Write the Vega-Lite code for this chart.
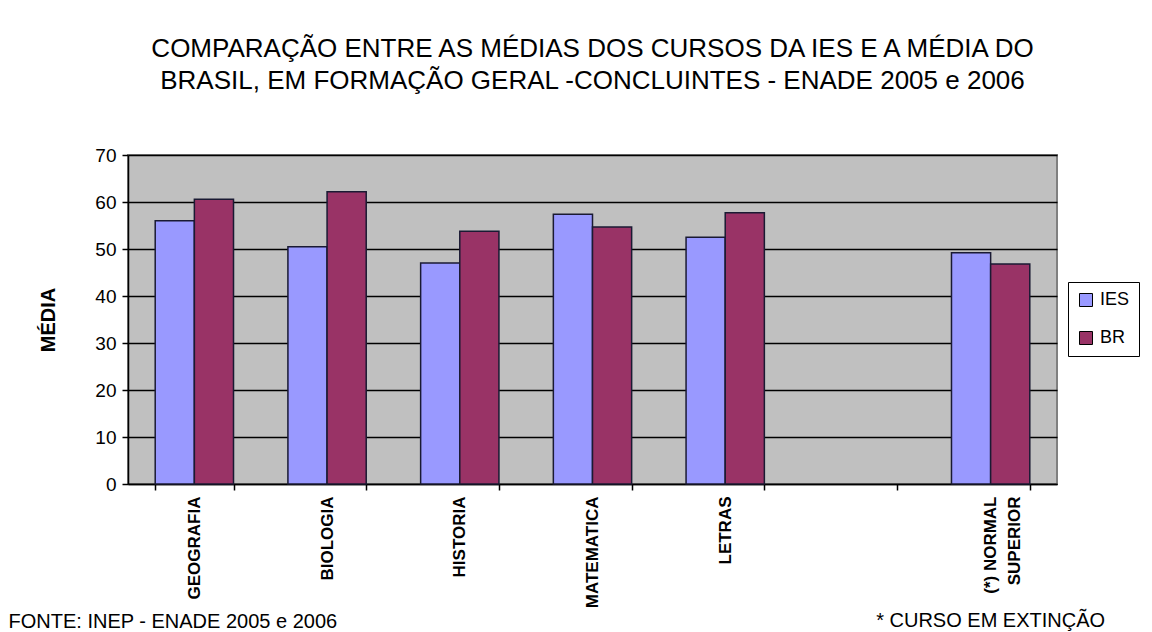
{
  "$schema": "https://vega.github.io/schema/vega-lite/v6.json",
  "autosize": {"type": "none"},
  "padding": {"left": 128, "top": 155, "right": 95, "bottom": 148},
  "width": 929,
  "height": 329,
  "background": "white",
  "title": {
    "text": ["COMPARAÇÃO ENTRE AS MÉDIAS  DOS CURSOS DA IES E A MÉDIA DO", "BRASIL, EM FORMAÇÃO GERAL -CONCLUINTES - ENADE 2005  e 2006"],
    "font": "Liberation Sans",
    "fontSize": 26,
    "fontWeight": "normal",
    "color": "black",
    "lineHeight": 32,
    "anchor": "middle",
    "offset": 52
  },
  "config": {
    "view": {"fill": "#C0C0C0", "stroke": "#808080", "strokeWidth": 2},
    "font": "Liberation Sans"
  },
  "layer": [
    {
      "data": {
        "values": [
          {"curso": "GEOGRAFIA", "grupo": "IES", "media": 56.0},
          {"curso": "GEOGRAFIA", "grupo": "BR", "media": 60.6},
          {"curso": "BIOLOGIA", "grupo": "IES", "media": 50.5},
          {"curso": "BIOLOGIA", "grupo": "BR", "media": 62.2},
          {"curso": "HISTORIA", "grupo": "IES", "media": 47.0},
          {"curso": "HISTORIA", "grupo": "BR", "media": 53.8},
          {"curso": "MATEMATICA", "grupo": "IES", "media": 57.4},
          {"curso": "MATEMATICA", "grupo": "BR", "media": 54.7},
          {"curso": "LETRAS", "grupo": "IES", "media": 52.5},
          {"curso": "LETRAS", "grupo": "BR", "media": 57.7},
          {"curso": "(*) NORMAL SUPERIOR", "grupo": "IES", "media": 49.2},
          {"curso": "(*) NORMAL SUPERIOR", "grupo": "BR", "media": 46.8}
        ]
      },
      "mark": {"type": "bar", "stroke": "#1a1a33", "strokeWidth": 1.5},
      "encoding": {
        "x": {
          "field": "curso",
          "type": "nominal",
          "sort": null,
          "scale": {
            "domain": ["GEOGRAFIA", "BIOLOGIA", "HISTORIA", "MATEMATICA", "LETRAS", " ", "(*) NORMAL SUPERIOR"],
            "paddingInner": 0.41,
            "paddingOuter": 0.205
          },
          "axis": {
            "labelAngle": 270,
            "labelFontSize": 17,
            "labelFontWeight": "bold",
            "labelColor": "black",
            "labelPadding": 6,
            "labelLineHeight": 24,
            "labelExpr": "datum.value == '(*) NORMAL SUPERIOR' ? ['(*) NORMAL', 'SUPERIOR'] : datum.value",
            "tickBand": "extent",
            "tickColor": "black",
            "tickSize": 6,
            "tickWidth": 1.5,
            "domainColor": "black",
            "domainWidth": 1.5,
            "title": "FONTE: INEP - ENADE 2005 e 2006",
            "titleFontSize": 20,
            "titleFontWeight": "normal",
            "titleColor": "black",
            "titleAnchor": "start",
            "titleAlign": "left",
            "titleBaseline": "alphabetic",
            "titleX": -120,
            "titleY": 143
          }
        },
        "xOffset": {"field": "grupo", "type": "nominal", "sort": ["IES", "BR"], "scale": {"domain": ["IES", "BR"], "paddingInner": 0}},
        "y": {
          "field": "media",
          "type": "quantitative",
          "scale": {"domain": [0, 70], "nice": false},
          "axis": {
            "values": [0, 10, 20, 30, 40, 50, 60, 70],
            "labelFontSize": 19,
            "labelColor": "black",
            "labelPadding": 6,
            "tickColor": "black",
            "tickSize": 6,
            "tickWidth": 1.5,
            "domainColor": "black",
            "domainWidth": 1.5,
            "grid": true,
            "gridColor": "black",
            "gridWidth": 1.5,
            "title": "MÉDIA",
            "titleFontSize": 20,
            "titleFontWeight": "bold",
            "titleColor": "black",
            "titlePadding": 36
          }
        },
        "color": {
          "field": "grupo",
          "type": "nominal",
          "scale": {"domain": ["IES", "BR"], "range": ["#9999FF", "#993366"]},
          "legend": {
            "title": null,
            "orient": "none",
            "legendX": 940,
            "legendY": 127,
            "strokeColor": "black",
            "fillColor": "white",
            "padding": 9,
            "symbolType": "square",
            "symbolSize": 169,
            "symbolStrokeColor": "black",
            "symbolStrokeWidth": 1,
            "symbolOpacity": 1,
            "labelFontSize": 18,
            "labelColor": "black",
            "rowPadding": 20,
            "labelOffset": 5
          }
        }
      }
    },
    {
      "data": {"values": [{"nota": "* CURSO EM EXTINÇÃO"}]},
      "mark": {"type": "text", "fontSize": 20, "color": "black", "align": "center", "baseline": "alphabetic"},
      "encoding": {
        "x": {"datum": "(*) NORMAL SUPERIOR"},
        "y": {"datum": -30.4},
        "text": {"field": "nota"}
      }
    }
  ]
}
